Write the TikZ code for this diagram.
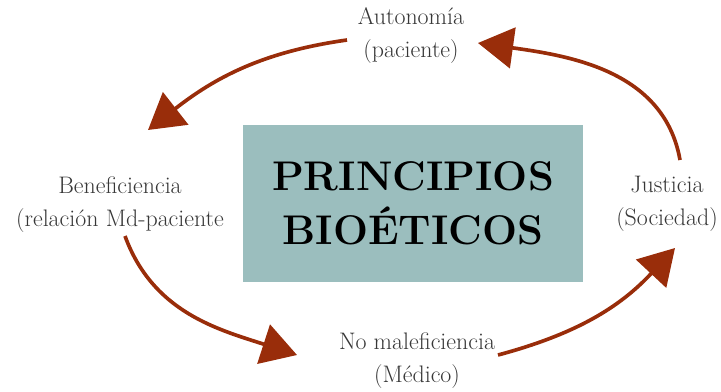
\documentclass[tikz,border=0pt]{standalone}
\usepackage{tikz}
\usetikzlibrary{arrows.meta}
\usetikzlibrary{shapes,positioning}
\definecolor{flechacolor}{RGB}{153,45,10}
\definecolor{cajacolor}{RGB}{155,190,190}
\definecolor{textocolor}{RGB}{55,55,55}
\tikzset{>={Triangle[length=25pt,width=29pt]},
  flecha/.style={->, line width=2.6pt, draw=flechacolor},
  etiqueta/.style={align=center, text=textocolor, font=\fontsize{17}{23.5}\selectfont},
  caja/.style={fill=cajacolor, minimum width=8.5cm, minimum height=3.925cm, align=center,
    font=\fontsize{29.5}{38}\selectfont\bfseries}}

\begin{document}
\begin{tikzpicture}

    \useasboundingbox (0,0) rectangle (18.025,9.775);

	\node [caja] (caja) at (10.325,4.69) {PRINCIPIOS\\BIO\'ETICOS};


	\node [etiqueta] (auto) at (10.275,8.875) {Autonom\'ia\\(paciente)};
	\node [etiqueta] (bene) at (3.0,4.65) {Beneficiencia\\(relaci\'on Md-paciente};
	\node [etiqueta] (just) at (16.675,4.675) {Justicia\\(Sociedad)};
	\node [etiqueta] (nomal) at (10.425,0.75) {No maleficiencia\\(M\'edico)};


    \draw [flecha] ([xshift=-1.6cm,yshift=-0.1cm]auto.center) to[out=188, in=38] ([xshift=0.7cm,yshift=1.875cm]bene.center);
    \draw [flecha] ([xshift=0.125cm,yshift=-0.775cm]bene.center) to[out=-70, in=162] ([xshift=-3.0cm,yshift=0.15cm]nomal.center);
    \draw [flecha] ([xshift=2.025cm,yshift=0.15cm]nomal.center) to[out=15, in=-133] ([xshift=0.2cm,yshift=-1.1cm]just.center);
    \draw [flecha] ([xshift=0.325cm,yshift=1.1cm]just.center) to[out=100, in=-8] ([xshift=1.675cm,yshift=-0.175cm]auto.center);

\end{tikzpicture}
\end{document}
